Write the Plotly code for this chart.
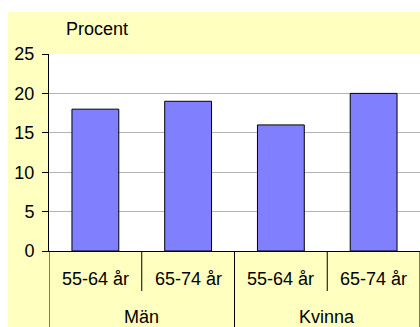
import plotly.graph_objects as go

# Data
age_groups = ["55-64 år", "65-74 år", "55-64 år", "65-74 år"]
sexes = ["Män", "Kvinna"]
percent = [18, 19, 16, 20]
y_ticks = [0, 5, 10, 15, 20, 25]
y_title = "Procent"

W, H = 420, 327
L, T, R, B = 49, 54, 0, 76
plot_w = W - L - R
plot_h = H - T - B


def px_to_paper_x(px):
    return (px - L) / plot_w


def px_to_paper_y(py):
    return (H - B - py) / plot_h


FONT = "Liberation Sans, Arial, sans-serif"
FS = 18

xs = list(range(len(percent)))

fig = go.Figure()
fig.add_trace(go.Bar(
    x=xs, y=percent, width=0.505,
    marker=dict(color="#8080FF", line=dict(color="#000000", width=1)),
    hoverinfo="skip",
))

shapes = []
# light yellow chart area background
shapes.append(dict(type="rect", xref="paper", yref="paper", layer="below",
                   x0=px_to_paper_x(8), x1=px_to_paper_x(W + 2),
                   y0=px_to_paper_y(H + 2), y1=px_to_paper_y(12),
                   fillcolor="#FFFFC0", line=dict(width=0)))
# white plot area
shapes.append(dict(type="rect", xref="paper", yref="paper", layer="below",
                   x0=0, x1=1, y0=0, y1=1,
                   fillcolor="#FFFFFF", line=dict(width=0)))

# category separators below the axis
bottom = px_to_paper_y(H + 2)
inner_bottom = px_to_paper_y(291)
n = len(age_groups)
per_group = n // len(sexes)
for k in range(n + 1):
    xpos = k - 0.5
    full = (k % per_group == 0)
    shapes.append(dict(type="line", xref="x", yref="paper",
                       x0=xpos, x1=xpos,
                       y0=bottom if full else inner_bottom, y1=0,
                       line=dict(color="#000000", width=1)))

annotations = []
for i, lab in enumerate(age_groups):
    annotations.append(dict(x=i, y=px_to_paper_y(279), xref="x", yref="paper",
                            text=lab, showarrow=False, xanchor="center", yanchor="middle",
                            font=dict(family=FONT, size=FS, color="#000000")))
for g, lab in enumerate(sexes):
    annotations.append(dict(x=g * per_group + (per_group - 1) / 2, y=px_to_paper_y(317),
                            xref="x", yref="paper",
                            text=lab, showarrow=False, xanchor="center", yanchor="middle",
                            font=dict(family=FONT, size=FS, color="#000000")))
annotations.append(dict(x=px_to_paper_x(64), y=px_to_paper_y(29), xref="paper", yref="paper",
                        text=y_title, showarrow=False, xanchor="left", yanchor="middle",
                        font=dict(family=FONT, size=FS, color="#000000")))

fig.update_layout(
    width=W, height=H,
    margin=dict(l=L, r=R, t=T, b=B, pad=0),
    paper_bgcolor="#FFFFFF",
    plot_bgcolor="rgba(0,0,0,0)",
    showlegend=False,
    shapes=shapes,
    annotations=annotations,
    font=dict(family=FONT, size=FS, color="#000000"),
    xaxis=dict(range=[-0.5, n - 0.5], showticklabels=False, ticks="",
               showgrid=False, zeroline=False, showline=True,
               linecolor="#000000", linewidth=1, fixedrange=True),
    yaxis=dict(range=[0, 25], tickvals=y_ticks, ticks="outside", ticklen=6,
               tickcolor="#000000", tickwidth=1,
               showline=True, linecolor="#000000", linewidth=1,
               showgrid=True, gridcolor="#B4B4B4", gridwidth=1,
               zeroline=False, ticklabelstandoff=4,
               tickfont=dict(family=FONT, size=FS, color="#000000"), fixedrange=True),
)

fig.write_html("out.html", config={"displayModeBar": False})
